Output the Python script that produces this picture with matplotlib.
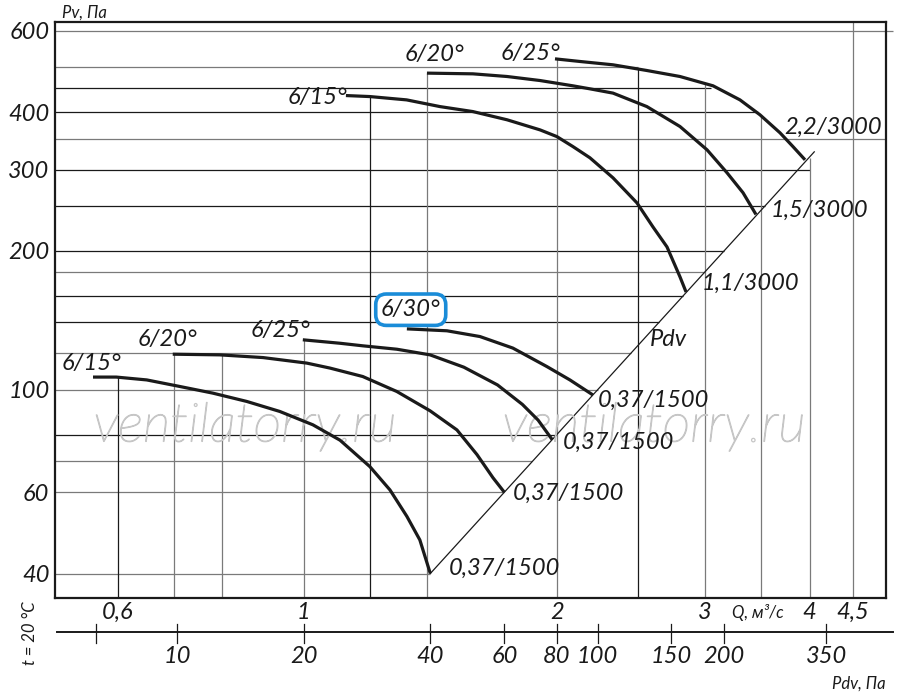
import numpy as np
import matplotlib
matplotlib.use("Agg")
import matplotlib.pyplot as plt
import matplotlib.patheffects as pe
from matplotlib.ticker import NullLocator
from matplotlib.transforms import blended_transform_factory

plt.rcParams['font.family'] = ['Lato', 'DejaVu Sans']
plt.rcParams['font.style'] = 'italic'

# 1500 rpm curves (Q, m3/s ; Pv, Pa)
q_15_lo = [0.561, 0.598, 0.650, 0.712, 0.779, 0.855, 0.936, 1.025, 1.104, 1.198,
           1.266, 1.326, 1.374, 1.414]
p_15_lo = [106.6, 106.6, 105.1, 101.7, 98.4, 94.4, 89.8, 84.0, 77.8, 68.2,
           60.7, 53.2, 47.3, 40.0]
q_20_lo = [0.698, 0.794, 0.894, 1.008, 1.074, 1.175, 1.290, 1.413, 1.521, 1.607,
           1.679, 1.732]
p_20_lo = [119.5, 119.1, 117.5, 114.3, 111.5, 106.9, 99.2, 90.1, 81.9, 72.4,
           64.5, 60.0]
q_25_lo = [0.997, 1.104, 1.175, 1.290, 1.413, 1.550, 1.700, 1.820, 1.900, 1.975]
p_25_lo = [128.4, 126.2, 124.6, 122.5, 119.1, 112.0, 102.5, 93.0, 86.0, 78.0]
q_30_lo = [1.326, 1.480, 1.620, 1.773, 1.947, 2.073, 2.208]
p_30_lo = [135.6, 134.3, 130.5, 123.2, 112.3, 105.1, 97.5]

# 3000 rpm curves
q_15_hi = [1.122, 1.198, 1.325, 1.452, 1.589, 1.745, 1.910, 2.0, 2.09, 2.19,
           2.333, 2.491, 2.603, 2.705, 2.803, 2.85]
p_15_hi = [434.4, 432.2, 425.1, 411.1, 401.0, 384.9, 366.0, 354.0, 336.8, 318.4,
           288.1, 254.3, 225.5, 204.1, 175.8, 163.0]
q_20_hi = [1.401, 1.589, 1.745, 1.910, 2.09, 2.19, 2.333, 2.560, 2.803, 3.019,
           3.189, 3.332, 3.452]
p_20_hi = [485.8, 484.1, 477.7, 468.2, 456.0, 449.2, 439.7, 411.1, 372.2, 331.3,
           295.4, 267.4, 240.0]
q_25_hi = [1.99, 2.131, 2.333, 2.560, 2.803, 3.069, 3.304, 3.490, 3.687, 3.820, 3.949]
p_25_hi = [521.7, 514.9, 506.4, 492.2, 477.7, 456.0, 425.1, 394.6, 360.7, 336.8, 315.2]

# dynamic pressure line
pdv_q = [1.414, 4.05]
pdv_p = [40.0, 328.0]

y_ticks = [40, 60, 100, 200, 300, 400, 600]
q_ticks = [0.6, 1, 2, 3, 4, 4.5]
q_labels = ['0,6', '1', '2', '3', '4', '4,5']
pdv_ticks = [6.4, 10, 20, 40, 60, 80, 100, 150, 200, 350]
pdv_labels = ['', '10', '20', '40', '60', '80', '100', '150', '200', '350']

fig = plt.figure(figsize=(9, 6.94), dpi=100)
ax = fig.add_axes([55 / 900, 96 / 694, 831 / 900, 576 / 694])
ax.set_xscale('log')
ax.set_yscale('log')
ax.set_xlim(0.5055, 4.93)
ax.set_ylim(35.4, 627)

BLK = '#1a1a1a'
GRY = '#7a7a7a'

# grid: horizontal lines end at the Pdv line (lower part) or at the top curve
h_lines = [(40, GRY), (60, GRY), (70, GRY), (80, BLK), (100, GRY), (120, GRY),
           (140, BLK), (160, BLK), (180, GRY), (200, BLK), (250, BLK)]
for lev, c in h_lines:
    ax.hlines(lev, 0.5055, np.sqrt(lev / 20.0), color=c, lw=0.9, zorder=1)
ax.hlines(300, 0.5055, 4.0, color=BLK, lw=0.9, zorder=1)
ax.hlines(350, 0.5055, 4.93, color=GRY, lw=0.9, zorder=1)
ax.hlines(400, 0.5055, 3.47, color=BLK, lw=0.9, zorder=1)
ax.hlines(450, 0.5055, 3.05, color=BLK, lw=0.9, zorder=1)
ax.hlines(500, 0.5055, 2.5, color=GRY, lw=0.9, zorder=1)
ax.hlines(600, 0.5055, 5.03, color=GRY, lw=0.9, zorder=1, clip_on=False)

v_lines = [(0.6, 106.6, BLK), (0.7, 119.5, GRY), (0.8, 119.0, GRY), (1.0, 128.4, GRY),
           (1.2, 432, BLK), (1.4, 486, GRY), (2.0, 521.7, GRY), (2.5, 495, BLK),
           (3.0, 460, GRY), (3.5, 394, GRY), (4.0, 318, GRY), (4.5, 627, GRY)]
for q, top, c in v_lines:
    ax.vlines(q, 35.4, top, color=c, lw=0.9, zorder=1)

# Pdv diagonal
ax.plot(pdv_q, pdv_p, color=BLK, lw=0.9, zorder=2)

for q, p in [(q_15_lo, p_15_lo), (q_20_lo, p_20_lo), (q_25_lo, p_25_lo), (q_30_lo, p_30_lo),
             (q_15_hi, p_15_hi), (q_20_hi, p_20_hi), (q_25_hi, p_25_hi)]:
    ax.plot(q, p, color=BLK, lw=2.3, solid_capstyle='butt', solid_joinstyle='round', zorder=3)

fs = 17
labels = [
    (0.515, 113.9, '6/15°'), (0.634, 128.6, '6/20°'), (0.863, 134.3, '6/25°'),
    (0.957, 431, '6/15°'), (1.319, 532, '6/20°'), (1.712, 537, '6/25°'),
    (3.735, 371, '2,2/3000'), (3.59, 245, '1,5/3000'), (2.978, 170, '1,1/3000'),
    (2.584, 128.6, 'Pdv'),
    (2.239, 94.8, '0,37/1500'), (2.034, 77, '0,37/1500'),
    (1.773, 59.8, '0,37/1500'), (1.488, 41, '0,37/1500'),
]
for x, y, s in labels:
    ax.text(x, y, s, fontsize=fs, ha='left', va='center', color=BLK, zorder=4)

ax.text(1.235, 149.2, '6/30°', fontsize=fs, ha='left', va='center', color=BLK, zorder=5,
        bbox=dict(boxstyle='round,pad=0.22,rounding_size=0.45', fc='white',
                  ec='#1a8cd8', lw=2.6))

# watermark (hollow letters)
for xf in [0.2286, 0.7208]:
    ax.text(xf, 0.297, 'ventilatorry.ru', transform=ax.transAxes, fontsize=39,
            fontweight='light', ha='center', va='center', color=(1, 1, 1, 0), zorder=2.5,
            path_effects=[pe.Stroke(linewidth=0.9, foreground='#c6c6c6')])

# axes and ticks
ax.set_yticks(y_ticks)
ax.set_yticklabels([str(v) for v in y_ticks])
ax.set_xticks(q_ticks)
ax.set_xticklabels(q_labels)
ax.xaxis.set_minor_locator(NullLocator())
ax.yaxis.set_minor_locator(NullLocator())
ax.tick_params(axis='both', length=0, labelsize=fs, colors=BLK)
ax.tick_params(axis='y', pad=4)
ax.tick_params(axis='x', pad=3)
for s in ax.spines.values():
    s.set_linewidth(1.6)
    s.set_color(BLK)
    s.set_zorder(6)

ax.text(0.008, 1.017, 'Pv, Па', transform=ax.transAxes, fontsize=12,
        ha='left', va='center', color=BLK)
bt = blended_transform_factory(ax.transData, ax.transAxes)
ax.text(3.23, -0.026, 'Q, м³/с', transform=bt, fontsize=12, ha='left', va='center', color=BLK)

# lower Pdv scale
ax.plot([0.0024, 1.008], [-0.059, -0.059], transform=ax.transAxes, color=BLK, lw=1.4,
        clip_on=False)
for v, s in zip(pdv_ticks, pdv_labels):
    qx = np.sqrt(v / 20.0)
    ax.plot([qx, qx], [-0.046, -0.078], transform=bt, color=BLK, lw=0.9, clip_on=False)
    ax.text(qx, -0.1007, s, transform=bt, fontsize=fs, ha='center', va='center', color=BLK)
ax.text(0.999, -0.148, 'Pdv, Па', transform=ax.transAxes, fontsize=12,
        ha='right', va='center', color=BLK)
ax.text(-0.030, -0.061, 't = 20 °C', transform=ax.transAxes, fontsize=12,
        ha='center', va='center', rotation=90, color=BLK)

fig.savefig('out.png', dpi=100)
